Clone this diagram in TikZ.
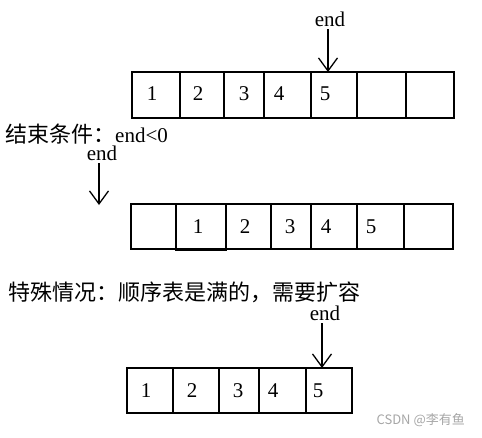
\documentclass[tikz,border=0pt]{standalone}
\usepackage{fontspec}
\setmainfont{Liberation Serif}
\newfontfamily\cjk{Noto Sans CJK SC}
\usepackage{tikz}
\usetikzlibrary{arrows.meta}
\tikzset{
  cell/.style={line width=1.4pt},
  num/.style={font=\fontsize{21}{25}\selectfont, inner sep=0pt},
  endlbl/.style={font=\fontsize{21}{25}\selectfont, inner sep=0pt, anchor=base},
  ptr/.style={line width=1.3pt, shorten <=3pt,
    -{Straight Barb[length=13pt, width=19pt, line width=1.3pt]}},
  note/.style={font=\fontsize{22}{26}\selectfont, inner sep=0pt, anchor=west},
}

\begin{document}
\begin{tikzpicture}[x=1pt, y=-1pt]
    \useasboundingbox (0,0) rectangle (482,437);

    % Array before the move
    \foreach \a/\b in {132/180, 180/224, 224/264, 264/311, 311/357, 357/406, 406/454}{
      \draw[cell] (\a,72) rectangle (\b,118);
    }
    \foreach \n/\x in {1/152, 2/198, 3/244, 4/279, 5/325}{
      \node[num] (top\n) at (\x,94) {\n};
    }
    \node[endlbl] (endTop) at (330,26) {end};
    \coordinate (tipTop) at (328,72);
    \draw[ptr] (endTop.south -| tipTop) -- (tipTop);

    % Stop condition
    \node[note] (stopNote) at (5,134) {{\cjk 结束条件：}{\fontsize{21}{25}\selectfont end<0}};

    % Array after the move
    \foreach \a/\b in {131/176, 176/226, 226/271, 271/311, 311/357, 357/404, 404/453}{
      \draw[cell] (\a,204) rectangle (\b,249);
    }
    \draw[cell, line width=2pt] (176,204) rectangle (226,250);
    \foreach \n/\x in {1/198, 2/245, 3/290, 4/326, 5/371}{
      \node[num] (mid\n) at (\x,227) {\n};
    }
    \node[endlbl] (endMid) at (102,160) {end};
    \coordinate (tipMid) at (99,205);
    \draw[ptr] (endMid.south -| tipMid) -- (tipMid);

    % Full table
    \node[note] (fullNote) at (8,292) {\cjk 特殊情况：顺序表是满的，需要扩容};
    \foreach \a/\b in {127/173, 173/219, 219/259, 259/306, 306/352}{
      \draw[cell] (\a,368) rectangle (\b,413);
    }
    \foreach \n/\x in {1/146, 2/192, 3/238, 4/273, 5/318}{
      \node[num] (low\n) at (\x,391) {\n};
    }
    \node[endlbl] (endLow) at (325,320) {end};
    \coordinate (tipLow) at (322,368);
    \draw[ptr] (endLow.south -| tipLow) -- (tipLow);

    % Watermark
    \node[font=\cjk\fontsize{13}{15}\selectfont, text=gray!70, anchor=east, inner sep=0pt]
      (mark) at (465,420) {CSDN @李有鱼};
  \end{tikzpicture}
\end{document}
